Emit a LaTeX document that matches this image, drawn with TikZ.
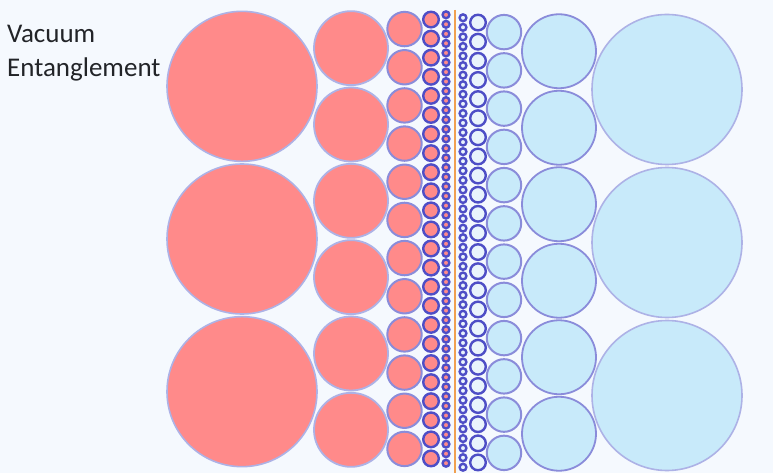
\documentclass[tikz,border=0pt]{standalone}
\usepackage{fontspec}
\setmainfont{Carlito}

\definecolor{bgpale}{HTML}{F5F9FE}
\definecolor{vacred}{HTML}{FF8A8A}
\definecolor{vacblue}{HTML}{C8EAFA}
\definecolor{ringpale}{HTML}{E9F4FC}
\definecolor{rimlight}{HTML}{ADB2E6}
\definecolor{rimmid}{HTML}{8A8CDA}
\definecolor{rimdark}{HTML}{4E4EC6}
\definecolor{cutline}{HTML}{F0A050}
\definecolor{inkdark}{HTML}{222428}

\begin{document}
\begin{tikzpicture}[x=1pt,y=-1pt,
  labeltext/.style={inner sep=0pt, anchor=base west, text=inkdark,
    font=\fontsize{27}{32}\selectfont}]

% Background
\useasboundingbox[fill=bgpale] (0,0) rectangle (773,473);

% Title
\node[labeltext] (vac) at (7,42.3) {Vacuum};
\node[labeltext] (ent) at (7,76.7) {Entanglement};

% Left half: red bubbles, halving towards the cut
\foreach \cx/\rad/\num/\rimw/\rimc in {242/75/3/1.6/rimlight, 351/37/6/1.8/rimlight,
    404.5/17.2/12/2/rimmid, 431/7.8/24/2.4/rimdark, 446/3.4/48/2.4/rimdark}{
  \foreach \i in {1,...,\num}{
    \draw[line width=\rimw, draw=\rimc, fill=vacred]
      (\cx, {10+(\i-0.5)/\num*458}) circle[radius=\rad];
  }
}

% Right half: blue bubbles
\foreach \cx/\rad/\num/\rimw/\rimc/\fillc in {667/75/3/1.6/rimlight/vacblue,
    559/37/6/1.8/rimmid/vacblue, 504/17.2/12/2/rimmid/vacblue,
    478/7.8/24/2.4/rimdark/ringpale, 463/3.4/48/2.4/rimdark/ringpale}{
  \foreach \i in {1,...,\num}{
    \draw[line width=\rimw, draw=\rimc, fill=\fillc]
      (\cx, {13+(\i-0.5)/\num*459}) circle[radius=\rad];
  }
}

% The cut
\coordinate (cuttop) at (454.5,10);
\coordinate (cutbot) at (454.5,473);
\draw[cutline, line width=2] (cuttop) -- (cutbot);

\end{tikzpicture}
\end{document}
